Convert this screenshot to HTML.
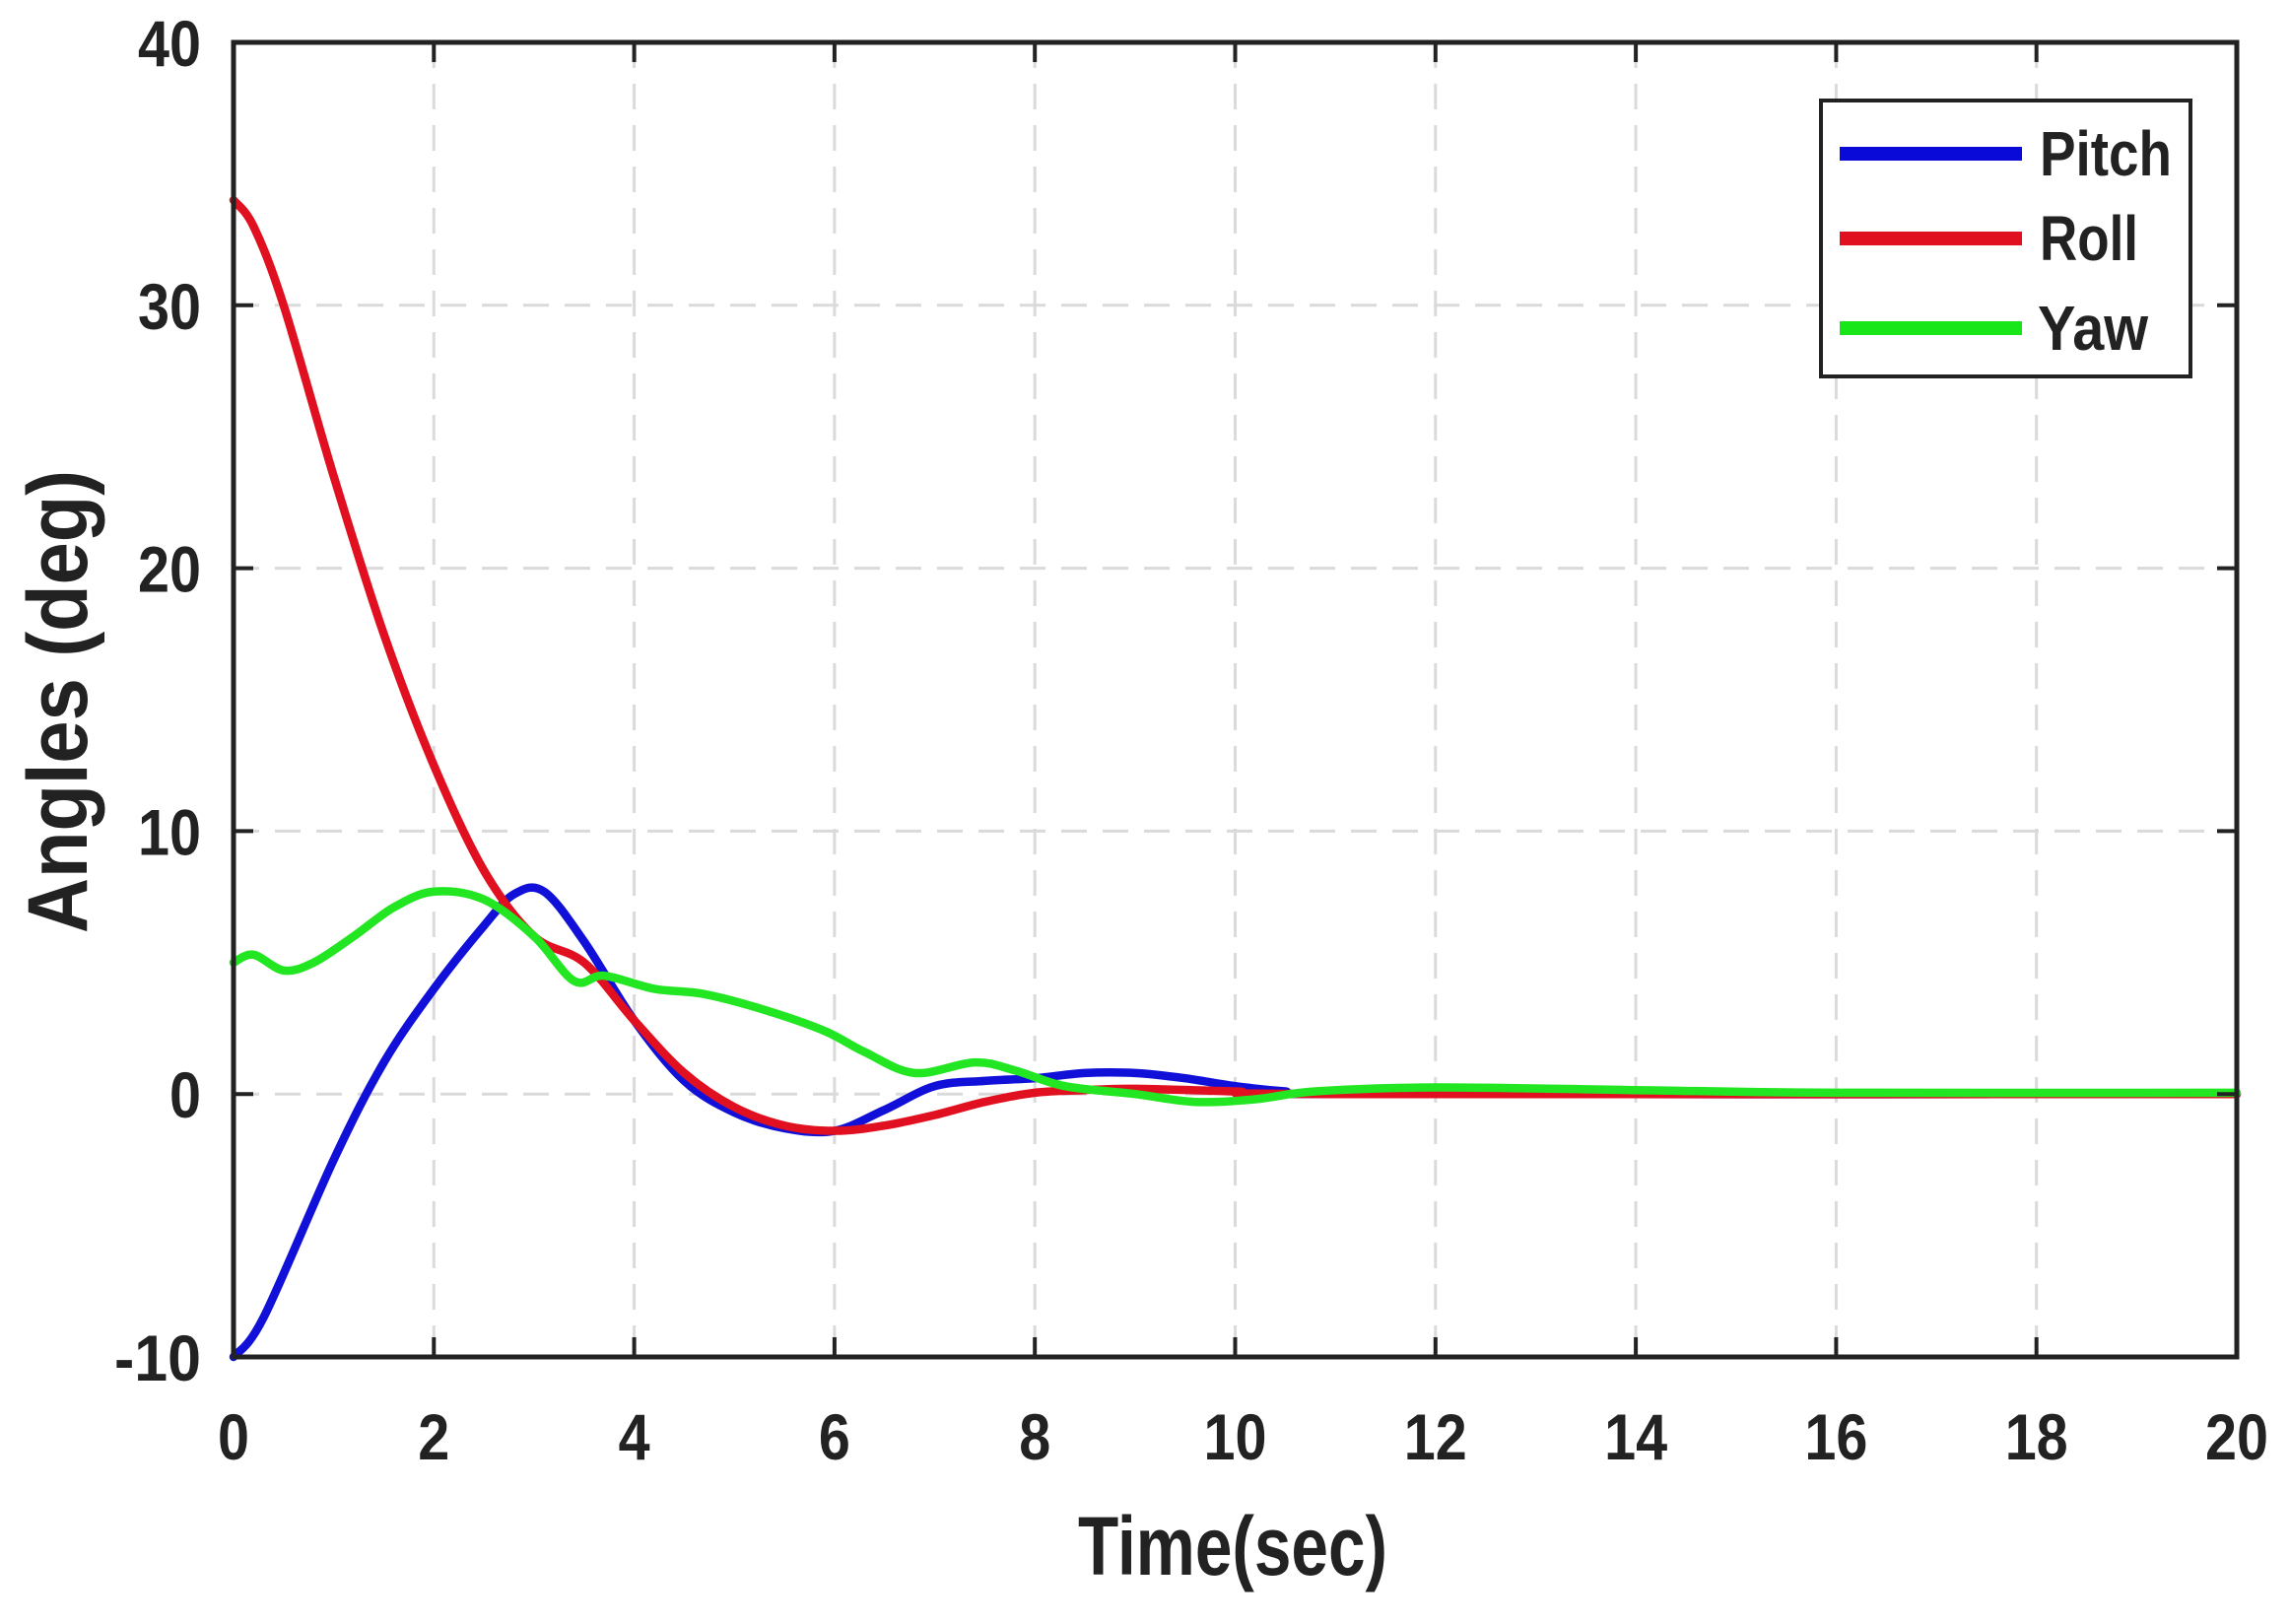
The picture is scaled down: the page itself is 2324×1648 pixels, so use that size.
<!DOCTYPE html>
<html><head><meta charset="utf-8"><style>html,body{margin:0;padding:0;background:#fff}svg{display:block}</style></head>
<body>
<svg id="s" width="2324" height="1648" viewBox="0 0 2324 1648" xmlns="http://www.w3.org/2000/svg" font-family="Liberation Sans, Arial, sans-serif" font-weight="bold" fill="#222">
<g id="grid" stroke="#dadada" stroke-width="3" stroke-dasharray="26,16"></g>
<g id="curves" fill="none" stroke-width="8.5" stroke-linejoin="round" stroke-linecap="round"></g>
<rect x="237" y="43" width="2033" height="1334" fill="none" stroke="#222" stroke-width="5"/>
<g id="ticks" stroke="#222" stroke-width="4"></g>
<g id="labels" font-size="66"></g>
<text x="1251" y="1598" font-size="84" text-anchor="middle" textLength="314" lengthAdjust="spacingAndGlyphs">Time(sec)</text>
<text transform="translate(88,712) rotate(-90)" font-size="86" text-anchor="middle" textLength="470" lengthAdjust="spacingAndGlyphs">Angles (deg)</text>
<rect x="1848" y="102" width="375" height="280" fill="#fff" stroke="#222" stroke-width="4"/>
<line x1="1867" y1="156" x2="2052" y2="156" stroke="#0a0ad8" stroke-width="14"/>
<line x1="1867" y1="242" x2="2052" y2="242" stroke="#e01020" stroke-width="14"/>
<line x1="1867" y1="333" x2="2052" y2="333" stroke="#19e619" stroke-width="14"/>
<text x="2070" y="178" font-size="64" textLength="134" lengthAdjust="spacingAndGlyphs">Pitch</text>
<text x="2070" y="264" font-size="64" textLength="100" lengthAdjust="spacingAndGlyphs">Roll</text>
<text x="2068" y="355" font-size="64" textLength="112" lengthAdjust="spacingAndGlyphs">Yaw</text>
</svg>
<script>
const NS="http://www.w3.org/2000/svg";
const X=t=>237+t*101.65, Y=v=>1377-(v+10)*26.68;
function el(p,tag,a,txt){const e=document.createElementNS(NS,tag);for(const k in a)e.setAttribute(k,a[k]);if(txt!==undefined)e.textContent=txt;document.getElementById(p).appendChild(e);}
for(let t=2;t<20;t+=2)el('grid','line',{x1:X(t),y1:43,x2:X(t),y2:1377});
for(let v=0;v<40;v+=10)el('grid','line',{x1:237,y1:Y(v),x2:2270,y2:Y(v)});
for(let t=2;t<20;t+=2){el('ticks','line',{x1:X(t),y1:1377,x2:X(t),y2:1357});el('ticks','line',{x1:X(t),y1:43,x2:X(t),y2:63});}
for(let v=0;v<40;v+=10){el('ticks','line',{x1:237,y1:Y(v),x2:257,y2:Y(v)});el('ticks','line',{x1:2270,y1:Y(v),x2:2250,y2:Y(v)});}
for(let t=0;t<=20;t+=2){const s=String(t);el('labels','text',{x:X(t),y:1481,'text-anchor':'middle',textLength:s.length*32,lengthAdjust:'spacingAndGlyphs'},s);}
for(let v=-10;v<=40;v+=10){const s=String(v);el('labels','text',{x:204,y:Y(v)+24,'text-anchor':'end',textLength:s.length*32-(v<0?8:0),lengthAdjust:'spacingAndGlyphs'},s);}
function smooth(pts){let d=`M${X(pts[0][0])},${Y(pts[0][1])}`;
 for(let i=0;i<pts.length-1;i++){const p0=pts[Math.max(0,i-1)],p1=pts[i],p2=pts[i+1],p3=pts[Math.min(pts.length-1,i+2)];
  const c1=[p1[0]+(p2[0]-p0[0])/6,p1[1]+(p2[1]-p0[1])/6],c2=[p2[0]-(p3[0]-p1[0])/6,p2[1]-(p3[1]-p1[1])/6];
  d+=` C${X(c1[0])},${Y(c1[1])} ${X(c2[0])},${Y(c2[1])} ${X(p2[0])},${Y(p2[1])}`;}
 return d;}
const yaw=[[0,5],[0.2,5.3],[0.5,4.7],[0.8,5],[1.2,6],[1.6,7.1],[2,7.7],[2.5,7.4],[3,6],[3.4,4.3],[3.7,4.5],[4.2,4],[4.7,3.8],[5.3,3.2],[5.9,2.4],[6.3,1.6],[6.8,0.8],[7.4,1.2],[7.8,0.9],[8.3,0.3],[9,0],[9.6,-0.3],[10.2,-0.2],[10.8,0.1],[12,0.25],[14,0.15],[16,0.05],[20,0.05]];
const pitch=[[0,-10],[0.3,-8.5],[1,-2.5],[1.5,1.2],[2,4],[2.5,6.4],[2.8,7.6],[3.1,7.7],[3.5,5.8],[4,2.8],[4.5,0.5],[5,-0.7],[5.5,-1.3],[6,-1.4],[6.5,-0.6],[7,0.3],[7.5,0.5],[8,0.6],[8.5,0.8],[9,0.8],[9.5,0.6],[10,0.3],[10.5,0.1],[11,0],[20,0]];
const roll=[[0,34],[0.2,33],[0.5,30],[1,23.5],[1.5,17.5],[2,12.5],[2.5,8.5],[3,6],[3.5,5],[4,2.8],[4.5,0.8],[5,-0.5],[5.5,-1.2],[6,-1.4],[6.5,-1.2],[7,-0.8],[7.5,-0.3],[8,0.05],[8.5,0.15],[9,0.2],[10,0.1],[11,0],[20,0]];
el('curves','path',{d:smooth(pitch),stroke:'#1010d8'});
el('curves','path',{d:smooth(roll),stroke:'#e01020'});
el('curves','path',{d:smooth(yaw),stroke:'#22e622'});
</script>
</body></html>
